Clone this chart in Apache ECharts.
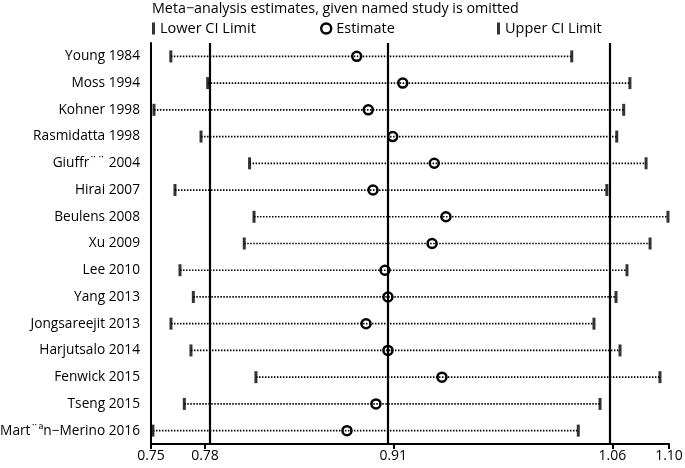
<!DOCTYPE html>
<html>
<head>
<meta charset="utf-8">
<script src="https://cdn.jsdelivr.net/npm/echarts@6/dist/echarts.min.js"></script>
<style>html,body{margin:0;padding:0;background:#fff}#c{width:685px;height:468px}</style>
</head>
<body>
<div id="c"></div>
<script>
const studies = ["Young 1984","Moss 1994","Kohner 1998","Rasmidatta 1998","Giuffr¨¨ 2004","Hirai 2007","Beulens 2008","Xu 2009","Lee 2010","Yang 2013","Jongsareejit 2013","Harjutsalo 2014","Fenwick 2015","Tseng 2015","Mart¨ªn−Merino 2016"];
const lowerCI = [0.7634,0.7883,0.7520,0.7838,0.8166,0.7662,0.8196,0.8130,0.7696,0.7786,0.7635,0.7770,0.8209,0.7725,0.7513];
const estimate = [0.8890,0.9201,0.8968,0.9133,0.9414,0.9000,0.9493,0.9399,0.9081,0.9101,0.8953,0.9101,0.9466,0.9020,0.8824];
const upperCI = [1.0343,1.0736,1.0694,1.0647,1.0845,1.0580,1.0993,1.0872,1.0716,1.0642,1.0493,1.0669,1.0939,1.0534,1.0387];
const overallLines = [0.7865,0.9137,1.0617];
const xTickValues = [0.75,0.7865,0.9137,1.0617,1.10];
const xTickLabels = ["0.75","0.78","0.91","1.06","1.10"];
const xMin = 0.75, xMax = 1.10;

const FONT = "Open Sans";
const chart = echarts.init(document.getElementById('c'), null, {renderer:'canvas'});
const idx = studies.map((s,i)=>i);
const ciData = [];
idx.forEach(i=>{ ciData.push([lowerCI[i],i]); ciData.push([upperCI[i],i]); ciData.push('-'); });
function tickLabel(v){
  let best=0;
  xTickValues.forEach((t,k)=>{ if(Math.abs(t-v)<Math.abs(xTickValues[best]-v)) best=k; });
  return xTickLabels[best];
}
chart.setOption({
  animation:false,
  backgroundColor:'#fff',
  textStyle:{fontFamily:FONT,color:'#000'},
  title:{text:'Meta−analysis estimates, given named study is omitted',left:152,top:2,padding:0,
    textStyle:{fontFamily:FONT,fontSize:14.3,fontWeight:'normal',color:'#000'}},
  legend:[
    {data:['Lower CI Limit'],left:152,top:21,padding:0,itemWidth:3,itemHeight:12,itemGap:0,
     textStyle:{fontFamily:FONT,fontSize:14.5,color:'#000'}},
    {data:['Estimate'],left:320,top:21,padding:0,itemWidth:10,itemHeight:10,
     itemStyle:{color:'rgba(0,0,0,0)',borderColor:'#000',borderWidth:2.4},
     textStyle:{fontFamily:FONT,fontSize:14.5,color:'#000'}},
    {data:['Upper CI Limit'],left:497,top:21,padding:0,itemWidth:3,itemHeight:12,
     textStyle:{fontFamily:FONT,fontSize:14.5,color:'#000'}}
  ],
  grid:{left:151,right:16,top:43,bottom:24,containLabel:false,outerBoundsMode:'none'},
  xAxis:{type:'value',min:xMin,max:xMax,
    axisLine:{show:true,lineStyle:{color:'#000',width:2}},
    splitLine:{show:false},
    axisTick:{show:true,customValues:xTickValues,length:5,lineStyle:{color:'#000',width:2}},
    axisLabel:{customValues:xTickValues,formatter:tickLabel,fontFamily:FONT,fontSize:14,color:'#000',margin:5}
  },
  yAxis:{type:'category',data:studies,inverse:true,
    axisLine:{show:true,lineStyle:{color:'#000',width:2}},
    axisTick:{show:false},splitLine:{show:false},
    axisLabel:{fontFamily:FONT,fontSize:13.7,color:'#000',margin:11}
  },
  series:[
    {type:'line',name:'CI',data:ciData,connectNulls:false,showSymbol:false,symbol:'none',
     lineStyle:{color:'#000',width:1.7,type:[1.5,1.5]},z:2},
    {type:'scatter',name:'Lower CI Limit',symbol:'rect',symbolSize:[3,12],
     itemStyle:{color:'#000'},data:idx.map(i=>[lowerCI[i],i]),z:3,
     markLine:{silent:true,symbol:['none','none'],label:{show:false},
       lineStyle:{color:'#000',width:2.2,type:'solid'},
       data:overallLines.map(v=>({xAxis:v}))}},
    {type:'scatter',name:'Estimate',symbol:'circle',symbolSize:9,
     itemStyle:{color:'rgba(0,0,0,0)',borderColor:'#000',borderWidth:2.5,opacity:1},
     data:idx.map(i=>[estimate[i],i]),z:4},
    {type:'scatter',name:'Upper CI Limit',symbol:'rect',symbolSize:[3,12],
     itemStyle:{color:'#000'},data:idx.map(i=>[upperCI[i],i]),z:3}
  ]
});
</script>
</body>
</html>
